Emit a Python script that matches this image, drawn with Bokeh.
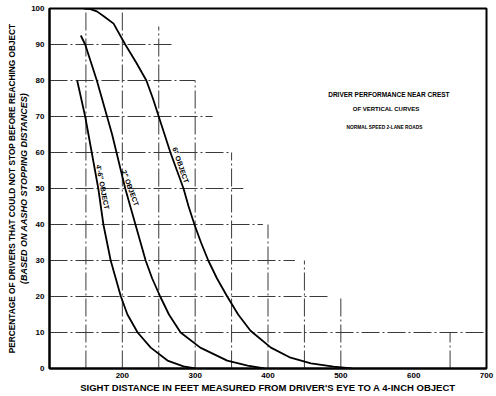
from bokeh.plotting import figure
from bokeh.models import Range1d, FixedTicker, Title, ColumnDataSource
from bokeh.core.properties import value
from bokeh.embed import file_html
from bokeh.resources import INLINE

# ---- data ----
sight_4_6 = [138, 149, 158, 167, 174, 184, 198, 207, 221, 239, 262, 284, 300]
pct_4_6 = [80, 70, 60, 50, 40, 30, 20, 15, 10, 5.8, 2.2, 0.6, 0]

sight_2 = [143, 149, 157, 165, 172, 179, 186, 192, 198, 204, 211, 218, 225, 232,
           241, 252, 264, 280, 307, 344, 372, 395]
pct_2 = [92.5, 90, 85, 80, 75, 70, 65, 60, 55, 50, 45, 40, 35, 30,
         25, 20, 15, 10, 5.8, 2.2, 0.8, 0]

sight_6 = [147, 156, 165, 175, 188, 204, 219, 233, 242, 250, 258, 266, 275, 284, 291,
           299, 308, 318, 330, 344, 359, 376, 404, 431, 459, 490, 515]
pct_6 = [100, 99.8, 99.2, 97.8, 95.8, 90, 85, 80, 75, 70, 65, 60, 55, 50, 45,
         40, 35, 30, 25, 20, 15, 10.5, 5.8, 3, 1.4, 0.5, 0]

curve_labels = ["4'-6\" OBJECT", "2\" OBJECT", "6\" OBJECT"]
curve_label_x = [173, 211, 280]
curve_label_y = [50.4, 50.1, 56.5]
curve_label_angle = [-1.38, -1.22, -1.24]

grid_h_y = [10, 20, 30, 40, 50, 60, 70, 80, 90]
grid_h_xend = [700, 485, 437, 393, 366, 346, 324, 300, 270]
grid_v_x = [150, 200, 250, 300, 350, 400, 450, 500, 650]
grid_v_ytop = [100, 100, 95, 80, 60, 40, 30, 20, 10]

x_ticks = [200, 300, 400, 500, 600, 700]
y_ticks = [0, 10, 20, 30, 40, 50, 60, 70, 80, 90, 100]

title_lines = ["DRIVER PERFORMANCE NEAR CREST", "OF VERTICAL CURVES",
               "NORMAL SPEED 2-LANE ROADS"]
title_x = [566, 562, 560]
title_y = [76, 72.2, 67]
title_sizes = ["6.5px", "6px", "4.8px"]

FONT = "Liberation Sans"

p = figure(width=494, height=395, output_backend="svg", toolbar_location=None,
           x_range=Range1d(100, 700), y_range=Range1d(0, 100),
           min_border_left=49, min_border_right=8, min_border_top=8,
           min_border_bottom=24)
p.background_fill_color = "white"
p.border_fill_color = "white"
p.outline_line_color = "black"
p.outline_line_width = 2
p.xgrid.visible = False
p.ygrid.visible = False

# staircase grid
p.segment(x0=[100] * len(grid_h_y), y0=grid_h_y, x1=grid_h_xend, y1=grid_h_y,
          line_color="#3a3a3a", line_width=1, line_dash="18 3 2 3")
p.segment(x0=grid_v_x, y0=[0] * len(grid_v_x), x1=grid_v_x, y1=grid_v_ytop,
          line_color="#3a3a3a", line_width=1, line_dash="18 3 2 3")

for xs, ys in [(sight_4_6, pct_4_6), (sight_2, pct_2), (sight_6, pct_6)]:
    p.line(xs, ys, line_color="black", line_width=1.8)

src = ColumnDataSource(dict(x=curve_label_x, y=curve_label_y, t=curve_labels,
                            a=curve_label_angle))
p.text(x="x", y="y", text="t", angle="a", source=src, text_align="center",
       text_baseline="middle", text_font=value(FONT), text_font_size="7px",
       text_font_style="bold", text_color="black")

for t, x, y, s in zip(title_lines, title_x, title_y, title_sizes):
    p.text(x=[x], y=[y], text=[t], text_align="center", text_baseline="middle",
           text_font=value(FONT), text_font_size=s, text_font_style="bold",
           text_color="black")

for ax in (p.xaxis[0], p.yaxis[0]):
    ax.axis_line_width = 2
    ax.axis_line_color = "black"
    ax.major_tick_line_color = None
    ax.minor_tick_line_color = None
    ax.major_tick_out = 0
    ax.major_tick_in = 0
    ax.minor_tick_out = 0
    ax.major_label_text_font = FONT
    ax.major_label_text_font_style = "bold"
    ax.major_label_text_font_size = "8px"
    ax.major_label_text_color = "black"

p.xaxis.ticker = FixedTicker(ticks=x_ticks)
p.yaxis.ticker = FixedTicker(ticks=y_ticks)
p.xaxis.major_label_standoff = 4
p.yaxis.major_label_standoff = 5
p.xaxis.axis_label = "SIGHT DISTANCE IN FEET MEASURED FROM DRIVER'S EYE TO A 4-INCH OBJECT"
p.xaxis.axis_label_text_font = FONT
p.xaxis.axis_label_text_font_style = "bold"
p.xaxis.axis_label_text_font_size = "9.5px"
p.xaxis.axis_label_standoff = 1
p.xaxis.axis_label_text_color = "black"

p.add_layout(Title(text="(BASED ON AASHO STOPPING DISTANCES)", align="center",
                   text_font=FONT, text_font_style="bold italic",
                   text_font_size="9px", standoff=0, text_color="black"), "left")
p.add_layout(Title(text="PERCENTAGE OF DRIVERS THAT COULD NOT STOP BEFORE REACHING OBJECT",
                   align="center", text_font=FONT, text_font_style="bold",
                   text_font_size="8.3px", standoff=0, text_color="black"), "left")

open("out.html", "w").write(file_html(p, INLINE))
